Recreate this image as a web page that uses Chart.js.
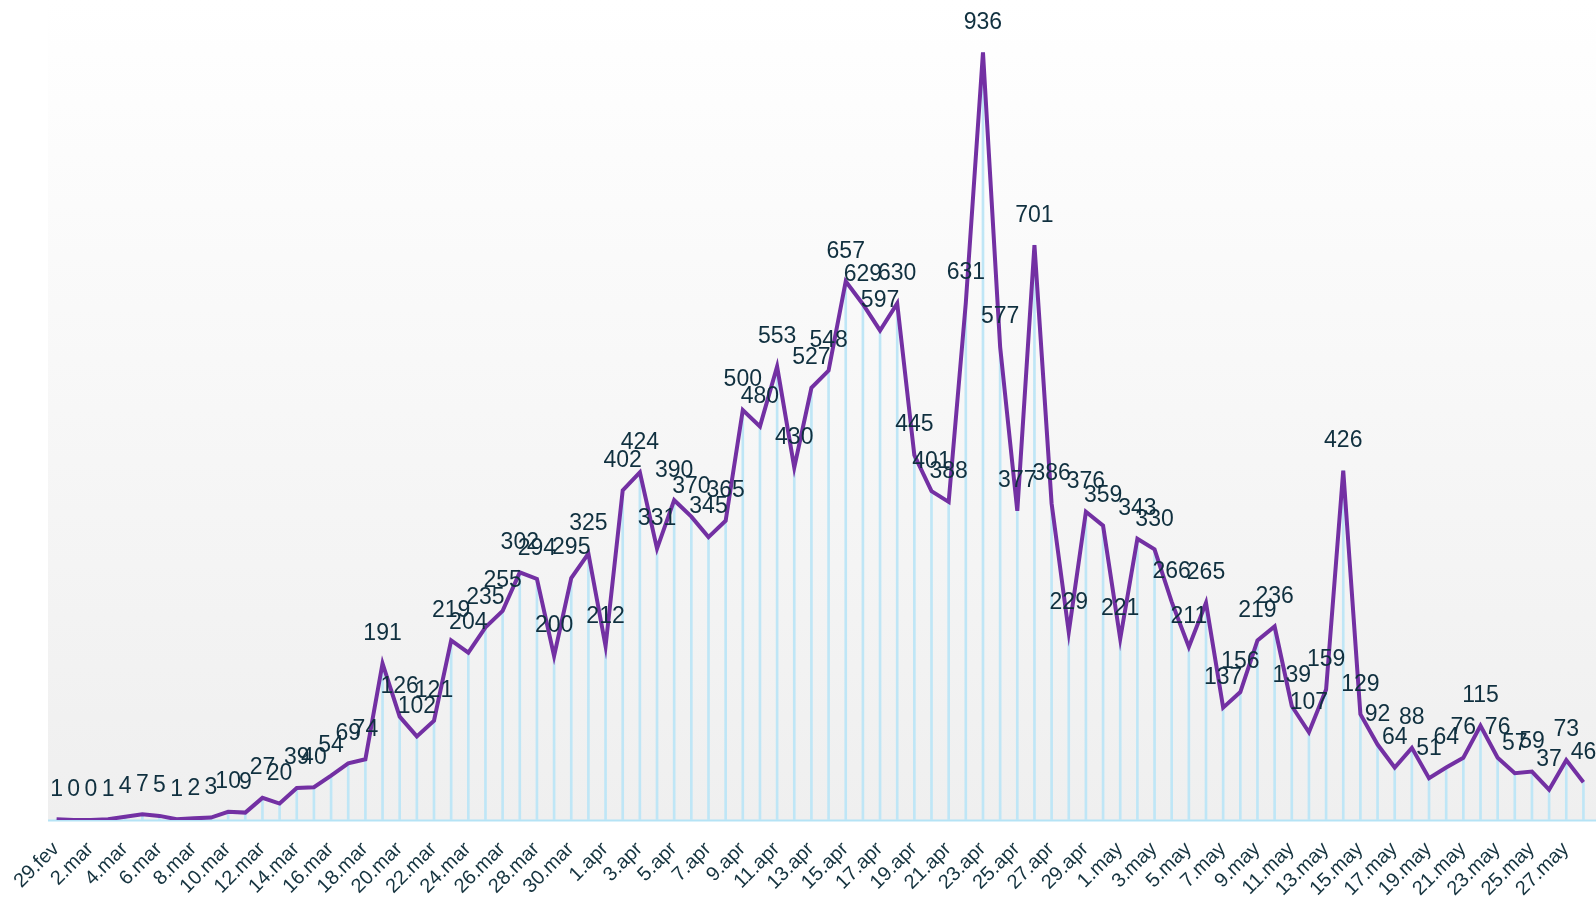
<!DOCTYPE html>
<html>
<head>
<meta charset="utf-8">
<script src="https://cdn.jsdelivr.net/npm/chart.js@4/dist/chart.umd.min.js"></script>
<style>
html,body{margin:0;padding:0;background:#fff;}
#wrap{width:1596px;height:898px;}
</style>
</head>
<body>
<div id="wrap"><canvas id="c" width="1596" height="898"></canvas></div>
<script>
const days = ['29.fev'];
const marDays = [];
for (let d = 1; d <= 31; d++) marDays.push(d + '.mar');
const aprDays = [];
for (let d = 1; d <= 30; d++) aprDays.push(d + '.apr');
const mayDays = [];
for (let d = 1; d <= 28; d++) mayDays.push(d + '.may');
const categories = days.concat(marDays, aprDays, mayDays);

const values = [1,0,0,1,4,7,5,1,2,3,10,9,27,20,39,40,54,69,74,191,126,102,121,219,204,235,255,302,294,200,295,325,212,402,424,331,390,370,345,365,500,480,553,430,527,548,657,629,597,630,445,401,388,631,936,577,377,701,386,229,376,359,221,343,330,266,211,265,137,156,219,236,139,107,159,426,129,92,64,88,51,64,76,115,76,57,59,37,73,46];

const bgPlugin = {
  id: 'bg',
  beforeDraw(chart) {
    const {ctx, chartArea: a} = chart;
    const g = ctx.createLinearGradient(0, a.top, 0, a.bottom);
    g.addColorStop(0, '#ffffff');
    g.addColorStop(1, '#efefef');
    ctx.save();
    ctx.fillStyle = g;
    ctx.fillRect(a.left, a.top, chart.width - a.left, a.bottom - a.top);
    ctx.strokeStyle = '#b5e3f5';
    ctx.lineWidth = 2;
    ctx.beginPath();
    ctx.moveTo(a.left, a.bottom + 0.5);
    ctx.lineTo(chart.width, a.bottom + 0.5);
    ctx.stroke();
    ctx.restore();
  }
};

const labelPlugin = {
  id: 'vals',
  afterDatasetsDraw(chart) {
    const ctx = chart.ctx;
    const meta = chart.getDatasetMeta(1);
    ctx.save();
    ctx.font = '23px "Liberation Sans", Arial, sans-serif';
    ctx.fillStyle = '#10303f';
    ctx.textAlign = 'center';
    ctx.textBaseline = 'middle';
    meta.data.forEach((p, i) => {
      ctx.fillText(String(values[i]), p.x, p.y - 30);
    });
    ctx.restore();
  }
};

const tickPlugin = {
  id: 'xticks',
  afterDraw(chart) {
    const ctx = chart.ctx;
    const sx = chart.scales.x;
    const base = chart.chartArea.bottom;
    ctx.save();
    ctx.font = '20px "Liberation Sans", Arial, sans-serif';
    ctx.fillStyle = '#15333f';
    ctx.textAlign = 'right';
    ctx.textBaseline = 'middle';
    categories.forEach((c, i) => {
      if (i % 2 !== 0) return;
      const x = sx.getPixelForValue(i);
      ctx.save();
      ctx.translate(x - 0.5, base + 26);
      ctx.rotate(-Math.PI / 4);
      ctx.fillText(c, 0, 0);
      ctx.restore();
    });
    ctx.restore();
  }
};

new Chart(document.getElementById('c'), {
  data: {
    labels: categories,
    datasets: [
      {
        type: 'bar',
        data: values,
        backgroundColor: '#bfe6f6',
        barThickness: 2,
        order: 2
      },
      {
        type: 'line',
        data: values,
        borderColor: '#7330a3',
        borderWidth: 4,
        pointRadius: 0,
        tension: 0,
        fill: false,
        order: 1
      }
    ]
  },
  options: {
    responsive: false,
    animation: false,
    layout: { padding: { left: 48, right: 4, top: 0, bottom: 0 } },
    plugins: { legend: { display: false }, tooltip: { enabled: false } },
    scales: {
      y: { display: false, min: 0, max: 1000 },
      x: {
        offset: true,
        grid: { display: false, drawBorder: false },
        border: { display: false },
        ticks: { display: false },
        afterFit: function(s) { s.height = 78; s.paddingLeft = 0; s.paddingRight = 0; }
      }
    }
  },
  plugins: [bgPlugin, labelPlugin, tickPlugin]
});
</script>
</body>
</html>
